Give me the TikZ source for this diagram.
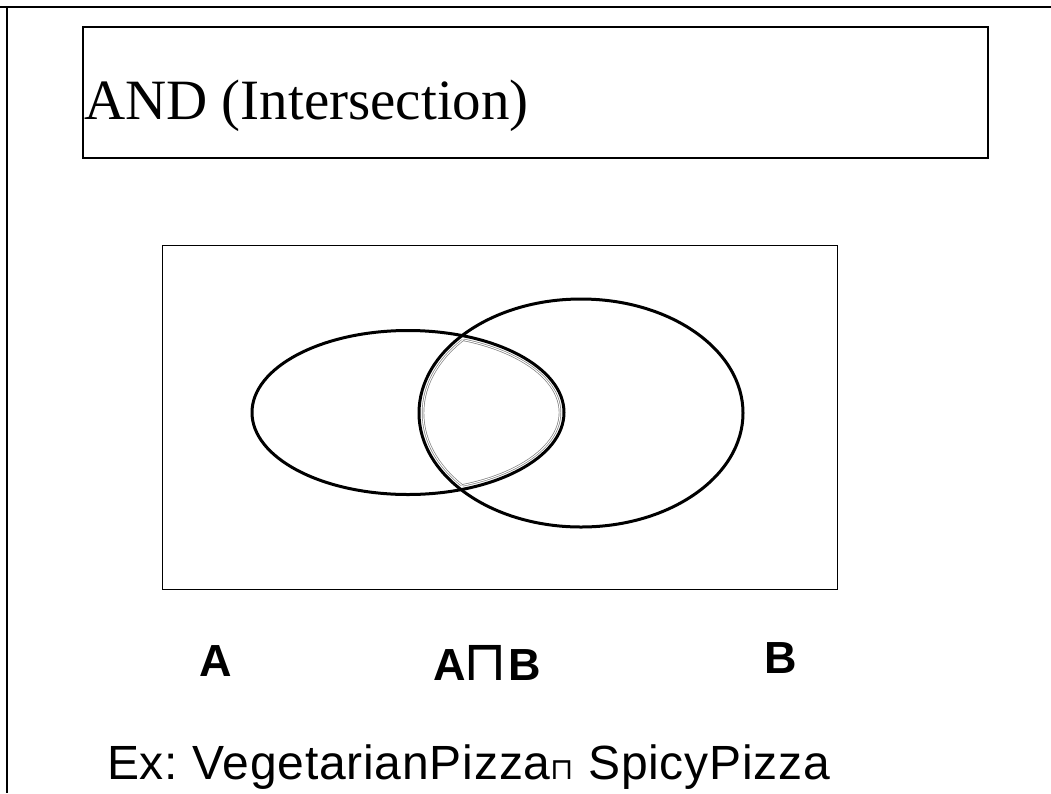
\documentclass[tikz,border=0pt]{standalone}
\usepackage{fontspec}
\setmainfont{Liberation Serif}
\setsansfont{Liberation Sans}
\newfontfamily\symfont{DejaVu Sans}
\newfontfamily\exfont[LetterSpace=1.7]{Liberation Sans}
\begin{document}
\frenchspacing
\begin{tikzpicture}[x=1pt,y=-1pt,
  frame/.style={draw=black,line width=2.2pt},
  venn/.style={draw=black,line width=3pt},
  hl/.style={draw=gray,double=white,double distance=1pt,line width=0.7pt},
  lbl/.style={inner sep=0pt,anchor=base west,font=\sffamily\bfseries\fontsize{45}{45}\selectfont}]
\useasboundingbox (0,0) rectangle (1051,793);
% outer frame (top and left only)
\draw[frame] (0,7) -- (1051,7);
\draw[frame] (7,7) -- (7,793);
% title box
\node[frame,draw,minimum width=905pt,minimum height=131pt,inner sep=0pt] (title) at (535.5,92.5) {};
\node[anchor=base west,inner sep=0pt,font=\fontsize{57}{57}\selectfont] (tt) at (84,119) {AND (Intersection)};
% universe box
\node[draw=black,line width=1pt,minimum width=675pt,minimum height=344pt,inner sep=0pt] (univ) at (499.5,417) {};
% ellipses
\draw[venn] (408,412.5) ellipse [x radius=156pt,y radius=82pt];
\draw[venn] (581,413) ellipse [x radius=162pt,y radius=114pt];
% intersection highlight
\begin{scope}
  \clip (581,413) ellipse [x radius=158pt,y radius=110pt];
  \draw[hl] (408,412.5) ellipse [x radius=152pt,y radius=78pt];
\end{scope}
\begin{scope}
  \clip (408,412.5) ellipse [x radius=152pt,y radius=78pt];
  \draw[hl] (581,413) ellipse [x radius=158pt,y radius=110pt];
\end{scope}
% labels
\node[lbl] (la) at (199,676) {A};
\node[lbl] (lab) at (433,680) {A\kern-2pt{\symfont\mdseries\fontsize{56}{56}\selectfont ⊓}\kern1pt B};
\node[lbl] (lb) at (764,673) {B};
\node[anchor=base west,inner sep=0pt,font=\exfont\fontsize{48}{48}\selectfont] (ex) at (107,779) {Ex: VegetarianPizza{\symfont\fontsize{30}{30}\selectfont ⊓} SpicyPizza};
\end{tikzpicture}
\end{document}
